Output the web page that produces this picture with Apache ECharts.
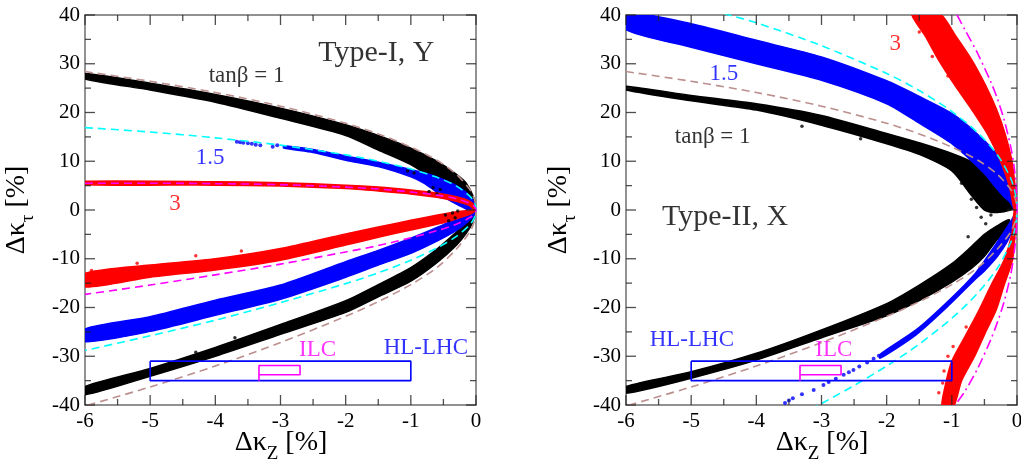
<!DOCTYPE html>
<html><head><meta charset="utf-8">
<script src="https://cdn.jsdelivr.net/npm/echarts@6/dist/echarts.min.js"></script>
<style>html,body{margin:0;padding:0;background:#fff}#c{width:1021px;height:468px}</style>
</head><body><div id="c"></div>
<script>
// ---------- axis ranges and tick values ----------
const kzRange = [-6, 0];      // Δκ_Z [%]
const ktRange = [-40, 40];    // Δκ_τ [%]
const xMajorTicks = [-6,-5,-4,-3,-2,-1,0];
const xMinorTicks = [-5.5,-4.5,-3.5,-2.5,-1.5,-0.5];
const yMajorTicks = [-40,-30,-20,-10,0,10,20,30,40];
const yMinorTicks = [-35,-25,-15,-5,5,15,25,35];

// ---------- LEFT: Type-I, Y — theory curves (dashed) ----------
const L_brown_up = [[-6,28.4],[-5,26.4],[-4,24.1],[-3,21.3],[-2,17.8],[-1.5,15.6],[-1,12.9],[-0.6,10.2],[-0.3,7.3],[-0.1,4.3],[-0.04,2.8],[-0.01,1.4],[0,0]];
const L_brown_lo = [[-6,-40.2],[-5,-36.3],[-4,-32],[-3,-27.2],[-2,-21.8],[-1.5,-18.8],[-1,-15.3],[-0.6,-11.8],[-0.3,-8],[-0.1,-4.6],[-0.04,-2.9],[-0.01,-1.4],[0,0]];
const L_cyan_up = [[-6,16.9],[-5,16.0],[-4,14.8],[-3,13.3],[-2,11.3],[-1.5,10.0],[-1,8.4],[-0.6,6.7],[-0.3,4.9],[-0.1,2.9],[-0.04,1.85],[-0.01,0.95],[0,0]];
const L_cyan_lo = [[-6,-28.8],[-5,-25.8],[-4,-22.6],[-3,-19.0],[-2,-15.1],[-1.5,-12.9],[-1,-10.3],[-0.6,-7.8],[-0.3,-5.4],[-0.1,-3.1],[-0.04,-1.95],[-0.01,-0.97],[0,0]];
const L_mag_up = [[-6,5.5],[-5,5.5],[-4,5.4],[-3,5.2],[-2,4.7],[-1.5,4.3],[-1,3.7],[-0.6,3.05],[-0.3,2.3],[-0.1,1.4],[-0.04,0.9],[-0.01,0.46],[0,0]];
const L_mag_lo = [[-6,-17.3],[-5,-15.4],[-4,-13.3],[-3,-11.1],[-2,-8.6],[-1.5,-7.3],[-1,-5.7],[-0.6,-4.25],[-0.3,-2.9],[-0.1,-1.6],[-0.04,-1.0],[-0.01,-0.48],[0,0]];

// ---------- LEFT: scan-point bands (outline of each cloud) ----------
const L_black_up_band = [[-6,28.0],[-5,26.0],[-4,23.7],[-3,20.9],[-2,17.5],[-1.5,15.3],[-1,12.7],[-0.6,10.0],[-0.3,7.3],[-0.15,5.5],[-0.05,3.0],[0,0.5],[-0.05,1.0],[-0.15,2.0],[-0.3,3.0],[-0.6,5.8],[-1,9.3],[-1.5,12.3],[-2,15.3],[-3,18.8],[-4,22.1],[-5,24.6],[-6,26.9]];
const L_black_lo_band = [[-6,-36.2],[-5,-32.5],[-4,-28.2],[-3,-23.5],[-2,-18.6],[-1.5,-15.3],[-1,-11.8],[-0.6,-8.0],[-0.3,-4.5],[-0.1,-2.0],[0,0],[-0.05,-2.5],[-0.15,-4.8],[-0.3,-7.2],[-0.6,-10.8],[-1,-14.6],[-1.5,-17.8],[-2,-21.0],[-3,-25.5],[-4,-30.0],[-5,-34.1],[-6,-37.9]];
const L_blue_up_band = [[-2.95,13.2],[-2.5,12.4],[-2,11.1],[-1.5,9.8],[-1,8.3],[-0.6,6.8],[-0.3,5.0],[-0.15,3.6],[-0.05,2.0],[0,0.3],[-0.05,-0.5],[-0.15,0.2],[-0.3,1.2],[-0.5,2.7],[-0.8,5.5],[-1,6.8],[-1.5,8.9],[-2,10.2],[-2.5,11.8],[-2.95,12.7]];
const L_blue_lo_band = [[-6,-24.4],[-5,-21.9],[-4,-18.5],[-3,-15.4],[-2,-10.6],[-1.5,-8.3],[-1,-5.8],[-0.6,-3.6],[-0.3,-1.7],[-0.1,-0.5],[0,0],[-0.05,-1.4],[-0.15,-2.7],[-0.3,-4.2],[-0.6,-6.4],[-1,-8.9],[-1.5,-11.3],[-2,-13.8],[-3,-18.3],[-4,-21.6],[-5,-24.9],[-6,-27.0]];
const L_red_up_band = [[-6,5.9],[-4,5.8],[-3,5.6],[-2,5.1],[-1.5,4.7],[-1,4.1],[-0.6,3.5],[-0.3,2.7],[-0.1,1.8],[0,0.5],[0,-0.3],[-0.1,0.9],[-0.3,1.8],[-0.6,2.6],[-1,3.3],[-1.5,3.9],[-2,4.4],[-3,4.9],[-4,5.1],[-6,5.2]];
const L_red_lo_band = [[-6,-13.0],[-5,-11.3],[-4,-10.0],[-3,-7.9],[-2,-4.9],[-1.5,-3.5],[-1,-2.1],[-0.5,-0.8],[-0.2,-0.2],[0,0],[-0.1,-0.9],[-0.3,-1.8],[-0.5,-2.6],[-1,-4.1],[-1.5,-5.6],[-2,-7.2],[-3,-10.3],[-4,-12.3],[-5,-13.8],[-6,-15.8]];
// isolated scan points
const L_black_pts = [[-0.72,3.8],[-0.66,4.6],[-0.6,3.3],[-0.55,4.2],[-0.47,-1.0],[-0.42,-2.2],[-0.36,-0.6],[-0.32,-1.6],[-0.28,-0.2],[-1.05,8.0],[-0.95,7.6],[-4.9,-32.6],[-4.3,-29.2],[-3.7,-26.2]];
const L_blue_pts = [[-3.67,14.0],[-3.62,13.9],[-3.57,13.8],[-3.5,13.7],[-3.44,13.6],[-3.38,13.4],[-3.31,13.3],[-3.12,13.0],[-3.05,13.3]];
const L_red_pts = [[-5.9,-12.4],[-5.7,-12.7],[-5.2,-10.9],[-4.3,-9.4],[-3.6,-8.4]];

// ---------- RIGHT: Type-II, X — theory curves ----------
const R_brown_up = L_brown_up;   // tanβ = 1 curve is identical in both panels
const R_brown_lo = L_brown_lo;
const R_cyan_up = [[-4.5,40.3],[-4,38.4],[-3,33.7],[-2,28.0],[-1.5,24.5],[-1,20.2],[-0.6,15.8],[-0.3,11.3],[-0.1,6.6],[-0.04,4.2],[-0.01,2.1],[0,0]];
const R_cyan_lo = [[-3.1,-40.4],[-3,-39.7],[-2.5,-36.0],[-2,-32.0],[-1.5,-27.5],[-1,-22.2],[-0.6,-17.0],[-0.3,-11.9],[-0.1,-6.8],[-0.04,-4.3],[-0.01,-2.1],[0,0]];
const R_mag_up = [[-0.92,40],[-0.8,37],[-0.6,32],[-0.4,26.2],[-0.3,22.8],[-0.2,18.6],[-0.1,13.2],[-0.05,9.4],[-0.02,6.0],[-0.005,3.0],[0,0]];
const R_mag_lo = [[-0.95,-40],[-0.8,-37.2],[-0.6,-32.4],[-0.4,-26.5],[-0.3,-23],[-0.2,-18.9],[-0.1,-13.5],[-0.05,-9.5],[-0.02,-6.0],[-0.005,-3.0],[0,0]];

// ---------- RIGHT: scan-point bands ----------
const R_black_up_band = [[-6,25.4],[-5,23.5],[-4,21.8],[-3,19.4],[-2,15.7],[-1.5,13.8],[-1,11.6],[-0.6,9.3],[-0.3,6.8],[-0.1,4.0],[0,1.0],[-0.1,0.0],[-0.3,-0.5],[-0.5,0.0],[-0.7,3.0],[-1,8.0],[-1.5,11.4],[-2,13.6],[-3,17.4],[-4,20.5],[-5,22.4],[-6,24.6]];
const R_black_lo_band = [[-6,-36.2],[-5,-33.2],[-4,-29.4],[-3,-24.6],[-2,-19.2],[-1.5,-15.4],[-1,-11.0],[-0.7,-7.5],[-0.5,-5.0],[-0.3,-3.2],[-0.12,-2.0],[-0.12,-4.0],[-0.3,-6.0],[-0.5,-9.5],[-0.7,-12.0],[-1,-14.8],[-1.5,-18.6],[-2,-21.7],[-3,-26.2],[-4,-30.8],[-5,-34.5],[-6,-37.6]];
const R_blue_up_band = [[-6,40.5],[-5,38.2],[-4,34.8],[-3,31.4],[-2,26.5],[-1.5,23.3],[-1,19.8],[-0.6,15.5],[-0.3,11.3],[-0.1,6.5],[0,2.0],[0,-1.0],[-0.1,1.5],[-0.2,2.7],[-0.35,5.0],[-0.5,7.5],[-1,13.6],[-1.5,17.8],[-2,21.8],[-3,26.6],[-4,30.0],[-5,33.4],[-6,37.0]];
const R_blue_lo_band = [[-2.1,-29.6],[-1.55,-24.6],[-1.05,-18.6],[-0.64,-13.0],[-0.4,-8.5],[-0.2,-4.5],[-0.08,-2.0],[0,0],[-0.05,-3.5],[-0.15,-6.5],[-0.3,-9.5],[-0.5,-12.5],[-0.64,-14.2],[-1.05,-19.6],[-1.55,-25.6],[-2.1,-30.4]];
const R_red_up_band = [[-1.62,40.5],[-1.4,35.5],[-1.2,30.7],[-0.95,25.5],[-0.69,20.5],[-0.45,15.5],[-0.26,10.2],[-0.12,5],[-0.04,0],[0,0],[-0.03,5],[-0.08,10.2],[-0.18,15.5],[-0.31,20.5],[-0.48,25.5],[-0.69,30.7],[-0.93,35.5],[-1.2,40.5]];
const R_red_lo_band = [[-0.04,0],[-0.08,-5],[-0.2,-10.3],[-0.4,-15.5],[-0.6,-21],[-0.8,-26],[-1.0,-31],[-1.1,-36],[-1.15,-40.5],[-0.98,-40.5],[-0.85,-35],[-0.65,-30],[-0.48,-25],[-0.32,-20.5],[-0.2,-15.5],[-0.07,-10.3],[-0.03,-5],[0,0]];
const R_black_pts = [[-0.55,-1.5],[-0.62,0.5],[-0.48,-2.8],[-0.7,2.2],[-0.4,-1.0],[-0.75,-5.5],[-0.85,5.5],[-2.4,14.6],[-3.3,17.2]];
const R_blue_pts = [[-3.56,-39.6],[-3.5,-39.1],[-3.44,-38.6],[-3.3,-37.8],[-3.12,-36.9],[-2.97,-35.9],[-2.89,-35.3],[-2.78,-34.6],[-2.66,-33.8],[-2.58,-33.3],[-2.51,-32.8],[-2.42,-32.1],[-2.3,-31.3],[-2.2,-30.5],[-2.12,-29.9]];
const R_red_pts = [[-1.12,-33.0],[-1.06,-30.0],[-1.14,-35.5],[-0.98,-28.0],[-0.78,-24.0],[-1.08,-38.5],[-1.5,36.5],[-1.3,31.5],[-1.06,27.5],[-1.2,-37.5]];

// ---------- projected precisions (boxes) ----------
const HL_LHC_box = [[-5,-31],[-1,-31],[-1,-35],[-5,-35],[-5,-31]];
const ILC_box = [[-3.33,-35],[-3.33,-31.9],[-2.7,-31.9],[-2.7,-33.8],[-3.33,-33.8]];

// ---------- text annotations (data coords) ----------
const L_labels = [
  {t:'Type-I, Y', x:-1.53, y:32.1, c:'#000', s:30},
  {t:'tanβ = 1', x:-3.52, y:27.5, c:'#000', s:23},
  {t:'1.5', x:-4.08, y:10.6, c:'#0000ff', s:23},
  {t:'3', x:-4.62, y:1.2, c:'#ff0000', s:23},
  {t:'ILC', x:-2.43, y:-28.7, c:'#ff00ff', s:23},
  {t:'HL-LHC', x:-0.77, y:-28.2, c:'#0000ff', s:23}
];
const R_labels = [
  {t:'Type-II, X', x:-4.48, y:-1.4, c:'#000', s:30},
  {t:'tanβ = 1', x:-4.67, y:14.9, c:'#000', s:23},
  {t:'1.5', x:-4.5, y:28.0, c:'#0000ff', s:23},
  {t:'3', x:-1.87, y:34.0, c:'#ff0000', s:23},
  {t:'HL-LHC', x:-4.99, y:-26.7, c:'#0000ff', s:23},
  {t:'ILC', x:-2.81, y:-28.8, c:'#ff00ff', s:23}
];
const xTitle = '{a|Δκ}{s|Z}{a| [%]}';
const yTitle = '{a|Δκ}{s|τ}{a| [%]}';

// ---------- colours / layout ----------
const C = {black:'#000000', blue:'#0000ff', red:'#ff0000', brown:'#bc8f8f', cyan:'#00ffff', mag:'#ff00ff'};
const FONT = 'Liberation Serif';
const GRID_W = 391, GRID_H = 390, MAJOR_PX = 10, MINOR_PX = 6, TICK_W = 1.3;

function curve(up, lo){ return up.concat(lo.slice().reverse().slice(1)); }

function band(pts, color, g){
  return {type:'custom', xAxisIndex:2*g, yAxisIndex:2*g, clip:true, silent:true, z:1,
    data:[[pts[0][0], pts[0][1]]],
    renderItem:function(params, api){
      return {type:'polygon', shape:{points: pts.map(p=>api.coord(p)), smooth:0.25},
        style:{fill:color, stroke:color, lineWidth:1.5, lineJoin:'round'}};
    }};
}
function dots(pts, color, g, size){
  return {type:'scatter', xAxisIndex:2*g, yAxisIndex:2*g, data:pts, symbolSize:size||3.5, silent:true, z:2,
    itemStyle:{color:color}};
}
function dline(data, color, g, dash, w, smooth){
  return {type:'line', xAxisIndex:2*g, yAxisIndex:2*g, data:data, showSymbol:false, symbol:'none', silent:true, z:3, clip:true,
    smooth: smooth ? 0.3 : false,
    lineStyle:{color:color, width:w||1.6, type:dash||[8,5]}};
}
function labels(arr, g){
  return {type:'scatter', xAxisIndex:2*g, yAxisIndex:2*g, symbolSize:1, silent:true, z:10,
    itemStyle:{color:'rgba(0,0,0,0)'},
    data: arr.map(a=>({value:[a.x,a.y], name:a.t, label:{color:a.c, fontSize:a.s}})),
    label:{show:true, position:'inside', formatter:'{b}', fontFamily:FONT, textBorderWidth:0}};
}
// inward tick marks on all four sides, drawn as thin rect symbols at the tick values
function tickMarks(g){
  const mk = (data, size, offset) => ({type:'scatter', xAxisIndex:2*g, yAxisIndex:2*g, data:data,
    symbol:'rect', symbolSize:size, symbolOffset:offset, clip:false, silent:true, z:6,
    itemStyle:{color:'#222'}});
  return [
    mk(xMajorTicks.map(v=>[v,ktRange[0]]), [TICK_W,MAJOR_PX], [0,-MAJOR_PX/2]),
    mk(xMajorTicks.map(v=>[v,ktRange[1]]), [TICK_W,MAJOR_PX], [0, MAJOR_PX/2]),
    mk(xMinorTicks.map(v=>[v,ktRange[0]]), [TICK_W,MINOR_PX], [0,-MINOR_PX/2]),
    mk(xMinorTicks.map(v=>[v,ktRange[1]]), [TICK_W,MINOR_PX], [0, MINOR_PX/2]),
    mk(yMajorTicks.map(v=>[kzRange[0],v]), [MAJOR_PX,TICK_W], [ MAJOR_PX/2,0]),
    mk(yMajorTicks.map(v=>[kzRange[1],v]), [MAJOR_PX,TICK_W], [-MAJOR_PX/2,0]),
    mk(yMinorTicks.map(v=>[kzRange[0],v]), [MINOR_PX,TICK_W], [ MINOR_PX/2,0]),
    mk(yMinorTicks.map(v=>[kzRange[1],v]), [MINOR_PX,TICK_W], [-MINOR_PX/2,0])
  ];
}
function richName(){ return {
  a:{fontSize:28, fontFamily:FONT, fill:'#000', color:'#000', verticalAlign:'bottom', padding:[0,0,7,0]},
  s:{fontSize:19, fontFamily:FONT, fill:'#000', color:'#000', verticalAlign:'bottom'}
};}
function mkAxis(g, pos, primary, isX){
  return {gridIndex:g, type:'value', position:pos,
    min: isX ? kzRange[0] : ktRange[0], max: isX ? kzRange[1] : ktRange[1], interval: isX ? 1 : 10,
    axisLine:{show:true, onZero:false, lineStyle:{color:'#6e6e6e', width:1.5}},
    axisTick:{show:false}, minorTick:{show:false},
    splitLine:{show:false},
    axisLabel:{show:primary, fontSize:21, fontFamily:FONT, color:'#000', margin: isX ? 6 : 5}};
}

const series = [
  band(L_black_up_band, C.black, 0), band(L_black_lo_band, C.black, 0),
  band(L_blue_up_band, C.blue, 0), band(L_blue_lo_band, C.blue, 0),
  band(L_red_up_band, C.red, 0), band(L_red_lo_band, C.red, 0),
  dots(L_black_pts, C.black, 0), dots(L_blue_pts, C.blue, 0, 4), dots(L_red_pts, C.red, 0),
  dline(curve(L_brown_up, L_brown_lo), C.brown, 0, null, null, true),
  dline(curve(L_cyan_up, L_cyan_lo), C.cyan, 0, null, null, true),
  dline(curve(L_mag_up, L_mag_lo), C.mag, 0, null, null, true),
  dline(HL_LHC_box, C.blue, 0, 'solid', 1.6),
  dline(ILC_box, C.mag, 0, 'solid', 1.6),
  labels(L_labels, 0),
  band(R_black_up_band, C.black, 1), band(R_black_lo_band, C.black, 1),
  band(R_blue_up_band, C.blue, 1), band(R_blue_lo_band, C.blue, 1),
  band(R_red_up_band, C.red, 1), band(R_red_lo_band, C.red, 1),
  dots(R_black_pts, C.black, 1), dots(R_blue_pts, C.blue, 1, 4), dots(R_red_pts, C.red, 1),
  dline(curve(R_brown_up, R_brown_lo), C.brown, 1, null, null, true),
  dline(curve(R_cyan_up, R_cyan_lo), C.cyan, 1, null, null, true),
  dline(curve(R_mag_up, R_mag_lo), C.mag, 1, [10,4,2,4], null, true),
  dline(HL_LHC_box, C.blue, 1, 'solid', 1.6),
  dline(ILC_box, C.mag, 1, 'solid', 1.6),
  labels(R_labels, 1)
].concat(tickMarks(0), tickMarks(1));

function titleText(text, x, y, rot){
  return {type:'text', x:x, y:y, rotation:rot, silent:true, z:20,
    style:{text:text, rich:richName(), fontFamily:FONT, fontSize:28, align:'center', verticalAlign:'middle', fill:'#000'}};
}

const chart = echarts.init(document.getElementById('c'));
chart.setOption({
  animation:false,
  grid:[{left:85, top:15, width:GRID_W, height:GRID_H, outerBoundsMode:'none'},
        {left:626, top:15, width:GRID_W, height:GRID_H, outerBoundsMode:'none'}],
  xAxis:[mkAxis(0,'bottom',true,true), mkAxis(0,'top',false,true), mkAxis(1,'bottom',true,true), mkAxis(1,'top',false,true)],
  yAxis:[mkAxis(0,'left',true,false), mkAxis(0,'right',false,false), mkAxis(1,'left',true,false), mkAxis(1,'right',false,false)],
  graphic:[
    titleText(xTitle, 281, 446, 0), titleText(xTitle, 822, 446, 0),
    titleText(yTitle, 20, 210, Math.PI/2), titleText(yTitle, 562, 210, Math.PI/2)
  ],
  series: series
});
</script></body></html>
